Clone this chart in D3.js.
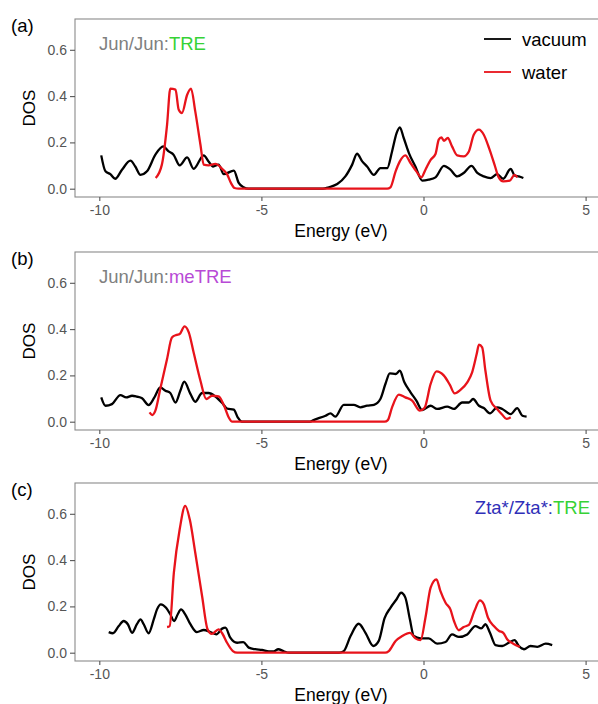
<!DOCTYPE html>
<html>
<head>
<meta charset="utf-8">
<script src="https://cdn.jsdelivr.net/npm/d3@7"></script>
<style>
  body { margin: 0; background: #fff; }
  svg { display: block; font-family: "Liberation Sans", Arial, Helvetica, sans-serif; }
</style>
</head>
<body>
<script>
// Ticks
var xTicks = [-10, -5, 0, 5],
    yTicks = [0.0, 0.2, 0.4, 0.6];

var panelLetters = ["(a)", "(b)", "(c)"];
var seriesNames = ["vacuum", "water"];

// Panel (a) Jun/Jun:TRE   [energy (eV), DOS]
var vacuumA = [[-9.94,0.144],[-9.81,0.075],[-9.66,0.063],[-9.51,0.043],[-9.30,0.082],[-9.04,0.121],[-8.89,0.096],
    [-8.73,0.060],[-8.53,0.075],[-8.27,0.147],[-8.03,0.183],[-7.86,0.161],[-7.71,0.147],[-7.52,0.101],[-7.29,0.135],
    [-7.09,0.086],[-6.78,0.144],[-6.63,0.118],[-6.49,0.096],[-6.32,0.104],[-6.16,0.063],[-5.85,0.078],[-5.70,0.025],
    [-5.55,0.006],[-5.40,0],[-3.10,0],[-2.92,0.006],[-2.66,0.020],[-2.41,0.053],[-2.20,0.104],[-2.05,0.151],
    [-1.89,0.118],[-1.74,0.096],[-1.53,0.060],[-1.33,0.089],[-1.12,0.089],[-0.97,0.161],[-0.83,0.240],[-0.73,0.265],
    [-0.61,0.219],[-0.45,0.154],[-0.25,0.096],[-0.04,0.035],[0.16,0.039],[0.37,0.049],[0.63,0.099],[0.83,0.082],
    [1.04,0.053],[1.24,0.068],[1.48,0.099],[1.66,0.068],[1.86,0.053],[2.07,0.046],[2.27,0.063],[2.46,0.043],
    [2.69,0.086],[2.81,0.057],[2.94,0.053],[3.08,0.046]];
var waterA = [[-8.26,0.046],[-8.07,0.104],[-7.91,0.276],[-7.81,0.432],[-7.65,0.428],[-7.55,0.341],[-7.45,0.327],
    [-7.29,0.406],[-7.17,0.432],[-7.04,0.334],[-6.88,0.190],[-6.78,0.104],[-6.63,0.101],[-6.42,0.107],[-6.21,0.086],
    [-6.06,0.063],[-5.94,0.025],[-5.83,0.003],[-5.70,0],[-1.12,0],[-1.02,0.006],[-0.86,0.075],[-0.73,0.118],
    [-0.56,0.144],[-0.40,0.111],[-0.22,0.075],[-0.07,0.049],[0.06,0.082],[0.22,0.125],[0.37,0.150],[0.47,0.212],
    [0.55,0.222],[0.63,0.207],[0.75,0.219],[0.88,0.183],[1.04,0.144],[1.24,0.140],[1.40,0.161],[1.55,0.233],
    [1.71,0.255],[1.86,0.233],[2.02,0.176],[2.19,0.104],[2.32,0.049],[2.46,0.032],[2.66,0.035],[2.81,0.060],[2.89,0.049]];

// Panel (b) Jun/Jun:meTRE
var vacuumB = [[-9.94,0.105],[-9.81,0.069],[-9.61,0.076],[-9.35,0.115],[-9.17,0.105],[-8.99,0.112],[-8.84,0.108],
    [-8.68,0.101],[-8.48,0.072],[-8.30,0.105],[-8.12,0.148],[-7.96,0.134],[-7.81,0.124],[-7.65,0.083],[-7.50,0.134],
    [-7.38,0.173],[-7.19,0.120],[-7.04,0.086],[-6.83,0.124],[-6.63,0.124],[-6.42,0.109],[-6.21,0.081],[-6.06,0.057],
    [-5.85,0.052],[-5.73,0.019],[-5.60,0],[-3.50,0],[-3.39,0.007],[-3.02,0.026],[-2.87,0.036],[-2.72,0.022],
    [-2.46,0.073],[-2.15,0.073],[-1.95,0.062],[-1.74,0.069],[-1.53,0.073],[-1.33,0.098],[-1.17,0.165],[-1.04,0.209],
    [-0.86,0.206],[-0.73,0.220],[-0.59,0.170],[-0.40,0.127],[-0.22,0.091],[-0.04,0.050],[0.22,0.069],[0.42,0.055],
    [0.73,0.065],[0.94,0.055],[1.19,0.083],[1.40,0.083],[1.53,0.098],[1.71,0.069],[1.86,0.059],[2.05,0.036],
    [2.27,0.062],[2.43,0.055],[2.69,0.033],[2.89,0.059],[3.05,0.026],[3.18,0.022]];
var waterB = [[-8.45,0.040],[-8.37,0.029],[-8.27,0.048],[-8.12,0.141],[-7.91,0.271],[-7.76,0.364],[-7.62,0.375],
    [-7.52,0.379],[-7.37,0.412],[-7.24,0.386],[-7.09,0.299],[-6.88,0.177],[-6.70,0.098],[-6.52,0.112],[-6.32,0.109],
    [-6.16,0.072],[-6.01,0.019],[-5.90,0],[-1.20,0],[-1.10,0.007],[-0.97,0.062],[-0.76,0.117],[-0.56,0.105],
    [-0.35,0.091],[-0.11,0.048],[0.03,0.059],[0.22,0.163],[0.40,0.217],[0.63,0.199],[0.81,0.160],[0.96,0.122],
    [1.14,0.137],[1.35,0.170],[1.50,0.213],[1.64,0.292],[1.71,0.333],[1.81,0.321],[1.91,0.220],[2.07,0.091],
    [2.27,0.055],[2.43,0.030],[2.56,0.012],[2.69,0.019]];

// Panel (c) Zta*/Zta*:TRE
var vacuumC = [[-9.71,0.089],[-9.58,0.084],[-9.40,0.115],[-9.25,0.137],[-9.12,0.123],[-8.99,0.086],[-8.84,0.123],
    [-8.73,0.144],[-8.63,0.123],[-8.48,0.084],[-8.32,0.144],[-8.22,0.187],[-8.10,0.209],[-7.94,0.194],[-7.81,0.166],
    [-7.69,0.137],[-7.58,0.166],[-7.48,0.187],[-7.35,0.166],[-7.19,0.123],[-6.99,0.089],[-6.78,0.098],[-6.57,0.089],
    [-6.39,0.079],[-6.21,0.104],[-6.11,0.108],[-5.96,0.065],[-5.75,0.043],[-5.56,0.046],[-5.39,0.022],[-5.19,0.015],
    [-4.98,0.012],[-4.77,0.006],[-4.62,0.006],[-4.48,0.015],[-4.31,0.006],[-4.15,0],[-2.60,0],[-2.46,0.007],
    [-2.25,0.072],[-2.00,0.125],[-1.79,0.086],[-1.55,0.029],[-1.38,0.051],[-1.20,0.149],[-1.02,0.194],[-0.83,0.231],
    [-0.69,0.259],[-0.56,0.238],[-0.42,0.144],[-0.30,0.072],[-0.09,0.062],[0.16,0.062],[0.42,0.039],[0.68,0.046],
    [0.88,0.079],[1.09,0.068],[1.35,0.079],[1.60,0.115],[1.78,0.105],[1.91,0.123],[2.05,0.086],[2.22,0.033],
    [2.43,0.029],[2.63,0.043],[2.81,0.054],[2.94,0.029],[3.10,0.015],[3.30,0.029],[3.51,0.025],[3.77,0.039],[3.97,0.033]];
var waterC = [[-7.91,0.111],[-7.83,0.115],[-7.70,0.346],[-7.52,0.533],[-7.35,0.634],[-7.21,0.576],[-7.04,0.432],
    [-6.83,0.245],[-6.66,0.101],[-6.53,0.081],[-6.32,0.101],[-6.21,0.084],[-6.06,0.043],[-5.88,0.007],[-5.75,0],
    [-1.18,0],[-1.07,0.007],[-0.86,0.051],[-0.66,0.072],[-0.42,0.086],[-0.25,0.062],[-0.09,0.054],[0.06,0.151],
    [0.22,0.281],[0.40,0.317],[0.52,0.267],[0.68,0.216],[0.83,0.187],[0.94,0.137],[1.09,0.097],[1.24,0.111],
    [1.40,0.120],[1.57,0.180],[1.74,0.226],[1.86,0.209],[1.99,0.151],[2.17,0.115],[2.33,0.094],[2.46,0.086],
    [2.58,0.058],[2.77,0.039],[2.97,0.025]];

var panels = [
    { letter: panelLetters[0], vacuum: vacuumA, water: waterA, top: 19,
      label: [["Jun/Jun:", "#808080"], ["TRE", "#36d236"]], align: "left", legend: true },
    { letter: panelLetters[1], vacuum: vacuumB, water: waterB, top: 252,
      label: [["Jun/Jun:", "#808080"], ["meTRE", "#b84ad6"]], align: "left", legend: false },
    { letter: panelLetters[2], vacuum: vacuumC, water: waterC, top: 483,
      label: [["Zta*/Zta*:", "#2f2fb8"], ["TRE", "#36d236"]], align: "right", legend: false }
];

var colors = { vacuum: "#000000", water: "#e8131b" };

var width = 598, height = 704,
    boxLeft = 75, boxRight = 608, boxHeight = 178;

var svg = d3.select("body").
    append("svg").
    attr("width", width).
    attr("height", height);

var x = d3.scaleLinear().domain([-10, 5]).range([99.3, 585.6]);

panels.forEach(function(p) {

    var y = d3.scaleLinear().domain([0, 0.6]).range([p.top + 169.7, p.top + 30.8]);
    var bottom = p.top + boxHeight;

    var g = svg.append("g");

    // panel border (right side runs off the page)
    g.append("rect").
        attr("x", boxLeft).
        attr("y", p.top).
        attr("width", boxRight - boxLeft).
        attr("height", boxHeight).
        attr("fill", "none").
        attr("stroke", "#8a8a8a").
        attr("stroke-width", 1.1);

    // Axes
    var xAxis = g.append("g").
        attr("transform", "translate(0," + bottom + ")").
        call(d3.axisBottom(x).tickValues(xTicks).tickSize(4).tickPadding(4).tickFormat(d3.format("d")));
    var yAxis = g.append("g").
        attr("transform", "translate(" + boxLeft + ",0)").
        call(d3.axisLeft(y).tickValues(yTicks).tickSize(5).tickPadding(3).tickFormat(d3.format(".1f")));

    [xAxis, yAxis].forEach(function(a) {
        a.select(".domain").remove();
        a.selectAll(".tick line").attr("stroke", "#555").attr("stroke-width", 1.1);
        a.selectAll(".tick text").
            attr("fill", "#555").
            style("font-size", "14px").
            style("font-family", "'Liberation Sans', Arial, sans-serif");
    });
    xAxis.selectAll(".tick text").text(function(d) { return d < 0 ? "-" + Math.abs(d) : d; });

    // Axis titles
    g.append("text").
        attr("x", 341).
        attr("y", bottom + 40).
        attr("text-anchor", "middle").
        style("font-size", "17.5px").
        text("Energy (eV)");
    g.append("text").
        attr("transform", "translate(35," + (p.top + boxHeight / 2) + ") rotate(-90)").
        attr("text-anchor", "middle").
        style("font-size", "17px").
        text("DOS");

    // Panel letter
    g.append("text").
        attr("x", 11).
        attr("y", p.top + 12.5).
        style("font-size", "18.5px").
        text(p.letter);

    // Annotation
    var ann = g.append("text").
        attr("x", p.align == "left" ? 99 : 590).
        attr("y", p.top + 30.5).
        attr("text-anchor", p.align == "left" ? "start" : "end").
        style("font-size", "18.5px");
    p.label.forEach(function(part) {
        ann.append("tspan").attr("fill", part[1]).text(part[0]);
    });

    // Lines
    var line = d3.line().
        x(function(d) { return x(d[0]); }).
        y(function(d) { return y(d[1]); }).
        curve(d3.curveMonotoneX);

    seriesNames.forEach(function(name) {
        g.append("path").
            datum(p[name]).
            attr("fill", "none").
            attr("stroke", colors[name]).
            attr("stroke-width", 2.3).
            attr("stroke-linejoin", "round").
            attr("d", line);
    });

    // Legend only on first panel
    if (p.legend) {
        seriesNames.forEach(function(name, i) {
            var ly = 39 + i * 33;
            g.append("line").
                attr("x1", 484).attr("x2", 511).
                attr("y1", ly).attr("y2", ly).
                attr("stroke", colors[name]).
                attr("stroke-width", 2).
                attr("stroke-opacity", 0.9);
            g.append("text").
                attr("x", 522).
                attr("y", ly + 6.5).
                style("font-size", "18.5px").
                text(name);
        });
    }
});
</script>
</body>
</html>
